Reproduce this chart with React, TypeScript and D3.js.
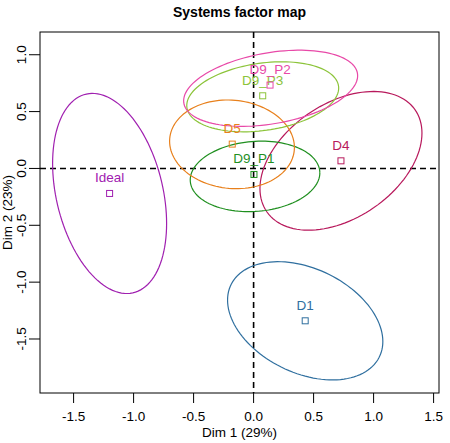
import { scaleLinear, line } from 'd3'

// products / systems
const names = ['Ideal', 'D1', 'D4', 'D9_P1', 'D5', 'D9_P3', 'D9_P2'];
const dim1 = [-1.2, 0.43, 0.728, 0.003, -0.178, 0.076, 0.137];
const dim2 = [-0.22, -1.34, 0.067, -0.053, 0.214, 0.639, 0.733];

// confidence ellipses: half extent on each dim + correlation
const ellCx = [-1.2, 0.43, 0.728, 0.012, -0.18, 0.076, 0.142];
const ellCy = [-0.22, -1.34, 0.067, -0.07, 0.212, 0.63, 0.705];
const ellW = [0.475, 0.647, 0.675, 0.54, 0.52, 0.633, 0.725];
const ellH = [0.88, 0.52, 0.61, 0.31, 0.39, 0.308, 0.335];
const ellRho = [-0.3, -0.35, 0.4, 0.1, -0.07, 0.25, 0.33];

const colors = ['#A020B0', '#2F6F9F', '#B8195C', '#1F8F1F', '#E8801C', '#8CC43A', '#E849A8'];

const xTicks = [-1.5, -1.0, -0.5, 0.0, 0.5, 1.0, 1.5];
const yTicks = [-1.5, -1.0, -0.5, 0.0, 0.5, 1.0];

function App() {
  const width = 450;
  const height = 443;
  const left = 40;
  const right = 439;
  const top = 32;
  const bottom = 393;

  const x = scaleLinear().domain([-1.78, 1.545]).range([left, right]);
  const y = scaleLinear().domain([-1.975, 1.2]).range([bottom, top]);

  const path = line<[number, number]>()
    .x(d => x(d[0]))
    .y(d => y(d[1]));

  const steps = Array.from({ length: 121 }, (_, i) => (i / 120) * Math.PI * 2);

  const ellipse = (i: number) => {
    const s = Math.sqrt(1 - ellRho[i] * ellRho[i]);
    const pts: [number, number][] = steps.map(t => [
      ellCx[i] + ellW[i] * Math.cos(t),
      ellCy[i] + ellH[i] * (ellRho[i] * Math.cos(t) + s * Math.sin(t)),
    ]);
    return path(pts) as string;
  };

  const font = 'Liberation Sans, Arial, sans-serif';

  return (
    <div>
      <svg width={width} height={height} style={{ position: 'absolute', left: 0, top: 0 }} fontFamily={font}>
        <rect x={0} y={0} width={width} height={height} fill="white" />
        <text x={(left + right) / 2} y={17} textAnchor="middle" fontWeight="bold" fontSize={14}>
          Systems factor map
        </text>

        {/* reference lines */}
        <line x1={x(0)} x2={x(0)} y1={top} y2={bottom} stroke="black" strokeWidth={1.6} strokeDasharray="6,4" />
        <line x1={left} x2={right} y1={y(0)} y2={y(0)} stroke="black" strokeWidth={1.6} strokeDasharray="6,4" />

        {names.map((n, i) => (
          <g key={n}>
            <path d={ellipse(i)} fill="none" stroke={colors[i]} strokeWidth={1.2} />
          </g>
        ))}
        {names.map((n, i) => (
          <g key={n + 'p'}>
            <rect x={x(dim1[i]) - 3} y={y(dim2[i]) - 3} width={6} height={6} fill="none" stroke={colors[i]} strokeWidth={1} />
            <text x={x(dim1[i])} y={y(dim2[i]) - 11} textAnchor="middle" fontSize={13.5} fill={colors[i]}>
              {n}
            </text>
          </g>
        ))}

        <rect x={left} y={top} width={right - left} height={bottom - top} fill="none" stroke="black" strokeWidth={1} />

        {/* x axis */}
        {xTicks.map(t => (
          <g key={'x' + t}>
            <line x1={x(t)} x2={x(t)} y1={bottom} y2={bottom + 10} stroke="black" />
            <text x={x(t)} y={421} textAnchor="middle" fontSize={13.5}>{t.toFixed(1)}</text>
          </g>
        ))}
        <text x={(left + right) / 2} y={437} textAnchor="middle" fontSize={13.5}>Dim 1 (29%)</text>

        {/* y axis */}
        {yTicks.map(t => (
          <g key={'y' + t}>
            <line x1={left - 11} x2={left} y1={y(t)} y2={y(t)} stroke="black" />
            <text transform={`translate(26,${y(t)}) rotate(-90)`} textAnchor="middle" fontSize={13.5}>{t.toFixed(1)}</text>
          </g>
        ))}
        <text transform={`translate(12,${(top + bottom) / 2}) rotate(-90)`} textAnchor="middle" fontSize={13.5}>Dim 2 (23%)</text>
      </svg>
    </div>
  );
}

export default App;
